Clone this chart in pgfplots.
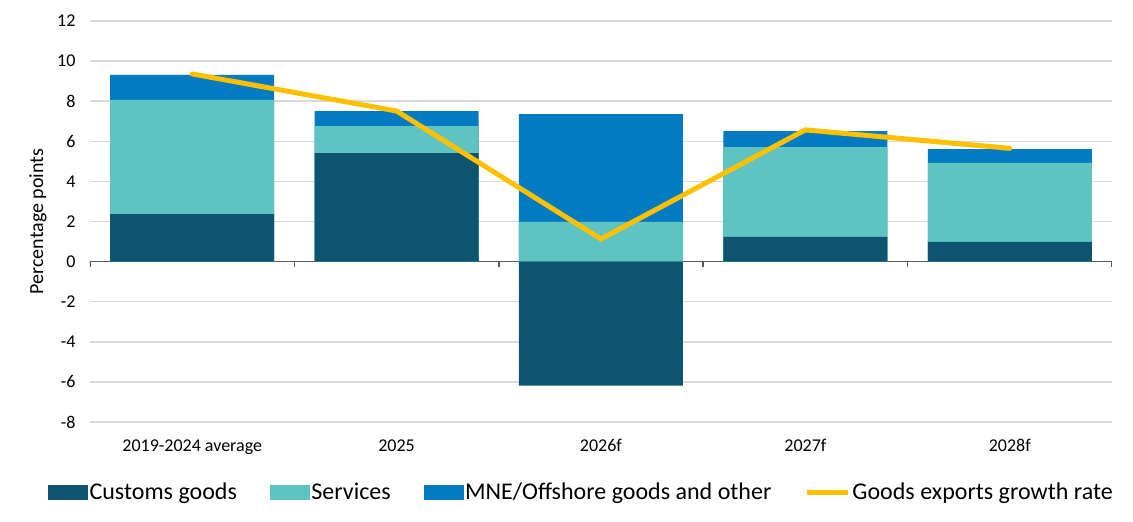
\documentclass[border=0pt]{standalone}
\usepackage{pgfplots}
\pgfplotsset{compat=1.18}
\usepackage{fontspec}
\setmainfont{Carlito}
\definecolor{customs}{HTML}{0C5470}
\definecolor{services}{HTML}{5FC4C1}
\definecolor{mne}{HTML}{037BC2}
\definecolor{growth}{HTML}{FFC000}
\definecolor{gridc}{HTML}{D9D9D9}
\definecolor{axisc}{HTML}{595959}
\begin{document}
\begin{tikzpicture}
\useasboundingbox (-90pt,-100pt) rectangle (1043pt,422pt);
\begin{axis}[
  at={(0,0)}, anchor=south west,
  scale only axis, width=1022pt, height=401pt,
  xmin=-0.5, xmax=4.5, ymin=-8, ymax=12,
  ytick={-8,-6,...,12},
  xtick={0,1,2,3,4},
  xticklabels={2019-2024 average,2025,2026f,2027f,2028f},
  /pgf/number format/assume math mode=true,
  major tick length=0pt,
  axis line style={draw=none},
  ymajorgrids, grid style={gridc, line width=1.5pt},
  ybar, bar width=164pt, bar shift=0pt,
  ticklabel style={font=\fontsize{18}{21}\selectfont},
  yticklabel style={xshift=-11pt},
  xticklabel style={yshift=-14pt},
  ylabel={Percentage points},
  ylabel style={font=\fontsize{20}{24}\selectfont, at={(axis description cs:-0.05088,0.5)}, anchor=center},
  legend columns=4,
  legend style={at={(axis description cs:0.5,0)}, anchor=center, yshift=-70pt, xshift=-19.5pt,
    draw=none, fill=none, font=\fontsize{24}{28}\selectfont,
    /tikz/every even column/.append style={column sep=31pt},
    nodes={inner xsep=2pt}},
]
\addlegendimage{legend image code/.code={\fill[customs] (0pt,-7pt) rectangle (39pt,7pt);}}
\addlegendentry{Customs goods}
\addlegendimage{legend image code/.code={\fill[services] (0pt,-7pt) rectangle (39pt,7pt);}}
\addlegendentry{Services}
\addlegendimage{legend image code/.code={\fill[mne] (0pt,-7pt) rectangle (39pt,7pt);}}
\addlegendentry{MNE/Offshore goods and other}
\addlegendimage{legend image code/.code={\draw[growth, line width=5pt] (0pt,0pt) -- (41pt,0pt);}}
\addlegendentry{Goods exports growth rate}

\draw[axisc, line width=1.5pt] (axis cs:-0.5,0) -- (axis cs:4.5,0);
\draw[axisc, line width=1.5pt] (axis cs:-0.5,0) -- ++(0pt,-5pt);
\draw[axisc, line width=1.5pt] (axis cs:0.5,0) -- ++(0pt,-5pt);
\draw[axisc, line width=1.5pt] (axis cs:1.5,0) -- ++(0pt,-5pt);
\draw[axisc, line width=1.5pt] (axis cs:2.5,0) -- ++(0pt,-5pt);
\draw[axisc, line width=1.5pt] (axis cs:3.5,0) -- ++(0pt,-5pt);
\draw[axisc, line width=1.5pt] (axis cs:4.5,0) -- ++(0pt,-5pt);

% cumulative tops: customs + services + MNE
\addplot[fill=mne, draw=none, forget plot] coordinates {(0,9.31) (1,7.51) (2,7.36) (3,6.51) (4,5.61)};
% cumulative tops: customs(+) + services
\addplot[fill=services, draw=none, forget plot] coordinates {(0,8.06) (1,6.76) (2,1.98) (3,5.71) (4,4.92)};
% customs goods
\addplot[fill=customs, draw=none, forget plot] coordinates {(0,2.37) (1,5.41) (2,-6.19) (3,1.23) (4,0.98)};
% goods exports growth rate
\addplot[sharp plot, growth, line width=5pt, line cap=round, forget plot] coordinates {(0,9.36) (1,7.51) (2,1.13) (3,6.57) (4,5.65)};
\end{axis}
\end{tikzpicture}
\end{document}
